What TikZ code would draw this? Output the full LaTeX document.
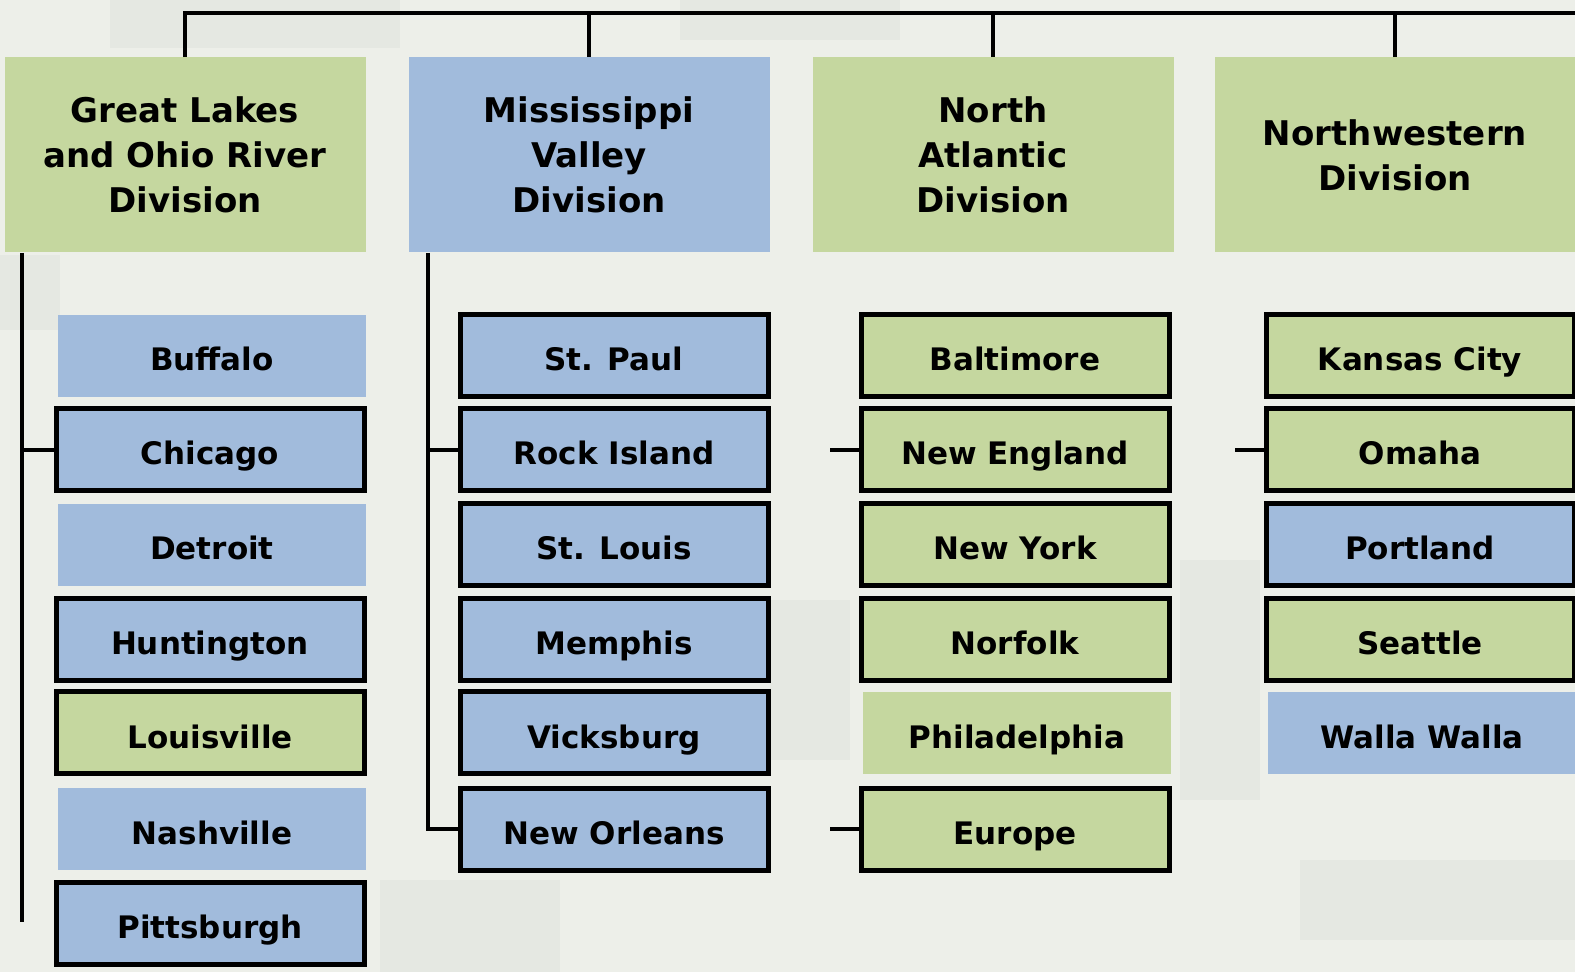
\documentclass[tikz,border=0pt]{standalone}
\usepackage{fontspec}
\setsansfont{DejaVu Sans}
\usetikzlibrary{positioning}
\definecolor{camo}{RGB}{237,239,233}
\definecolor{camodark}{RGB}{229,232,226}
\definecolor{divgreen}{RGB}{197,215,159}
\definecolor{distblue}{RGB}{161,187,220}

\begin{document}
\begin{tikzpicture}[x=0.5pt, y=-0.5pt,
  division/.style={minimum width=180.5pt, minimum height=97.5pt, inner sep=0pt, align=center,
    font=\sffamily\bfseries\fontsize{17}{22.5}\selectfont},
  district/.style={minimum width=154pt, minimum height=41pt, inner sep=0pt,
    text height=15pt, text depth=0pt,
    font=\sffamily\bfseries\fontsize{15.5}{18}\selectfont},
  boxed/.style={draw=black, line width=2.5pt},
  conn/.style={line width=2.4pt}]
  \useasboundingbox (0,0) rectangle (1575,972);
  \clip (0,0) rectangle (1575,972);
  % camouflage background
  \fill[camo] (0,0) rectangle (1575,972);
  \fill[camodark] (110,0) rectangle (400,48);
  \fill[camodark] (0,255) rectangle (60,330);
  \fill[camodark] (680,0) rectangle (900,40);
  \fill[camodark] (1180,560) rectangle (1260,800);
  \fill[camodark] (380,880) rectangle (560,972);
  \fill[camodark] (1300,860) rectangle (1575,940);
  \fill[camodark] (770,600) rectangle (850,760);

  % divisions
  \node[division, fill=divgreen] (gl) at (185,155) {Great Lakes\\and Ohio River\\Division};
  \node[division, fill=distblue] (mv) at (589,155) {Mississippi\\Valley\\Division};
  \node[division, fill=divgreen] (na) at (993,155) {North\\Atlantic\\Division};
  \node[division, fill=divgreen] (nw) at (1395,155) {Northwestern\\Division};

  % Great Lakes and Ohio River districts
  \node[district, fill=distblue] (buf) at (212,356) {Buffalo};
  \node[district, boxed, fill=distblue] (chi) at (210,450) {Chicago};
  \node[district, fill=distblue] (det) at (212,545) {Detroit};
  \node[district, boxed, fill=distblue] (hun) at (210,640) {Huntington};
  \node[district, boxed, fill=divgreen] (lou) at (210,733) {Louisville};
  \node[district, fill=distblue] (nas) at (212,829) {Nashville};
  \node[district, boxed, fill=distblue] (pit) at (210,923) {Pittsburgh};

  % Mississippi Valley districts
  \node[district, boxed, fill=distblue] (stp) at (614,356) {St. Paul};
  \node[district, boxed, fill=distblue] (rock) at (614,450) {Rock Island};
  \node[district, boxed, fill=distblue] (stl) at (614,545) {St. Louis};
  \node[district, boxed, fill=distblue] (mem) at (614,640) {Memphis};
  \node[district, boxed, fill=distblue] (vic) at (614,733) {Vicksburg};
  \node[district, boxed, fill=distblue] (nor) at (614,829) {New Orleans};

  % North Atlantic districts
  \node[district, boxed, fill=divgreen] (bal) at (1015,356) {Baltimore};
  \node[district, boxed, fill=divgreen] (neng) at (1015,450) {New England};
  \node[district, boxed, fill=divgreen] (nyk) at (1015,545) {New York};
  \node[district, boxed, fill=divgreen] (nfk) at (1015,640) {Norfolk};
  \node[district, fill=divgreen] (phi) at (1017,733) {Philadelphia};
  \node[district, boxed, fill=divgreen] (eur) at (1015,829) {Europe};

  % Northwestern districts
  \node[district, boxed, fill=divgreen] (kc) at (1420,356) {Kansas City};
  \node[district, boxed, fill=divgreen] (oma) at (1420,450) {Omaha};
  \node[district, boxed, fill=distblue] (por) at (1420,545) {Portland};
  \node[district, boxed, fill=divgreen] (sea) at (1420,640) {Seattle};
  \node[district, fill=distblue] (wal) at (1422,733) {Walla Walla};

  % connectors
  \coordinate (topend) at (1580,13);
  \draw[conn] (gl.north) |- (topend);
  \foreach \d in {mv,na,nw} \draw[conn] (\d.north) -- (\d.north |- topend);
  \coordinate (glspine) at (22,922);
  \draw[conn] (gl.south -| glspine) -- (glspine);
  \draw[conn] (chi.west) -- (chi.west -| glspine);
  \coordinate (mvspine) at (428,0);
  \draw[conn] (mv.south -| mvspine) |- (nor.west);
  \draw[conn] (rock.west) -- (rock.west -| mvspine);
  \coordinate (nastub) at (830,0);
  \draw[conn] (neng.west) -- (neng.west -| nastub);
  \draw[conn] (eur.west) -- (eur.west -| nastub);
  \coordinate (nwstub) at (1235,0);
  \draw[conn] (oma.west) -- (oma.west -| nwstub);
\end{tikzpicture}
\end{document}
